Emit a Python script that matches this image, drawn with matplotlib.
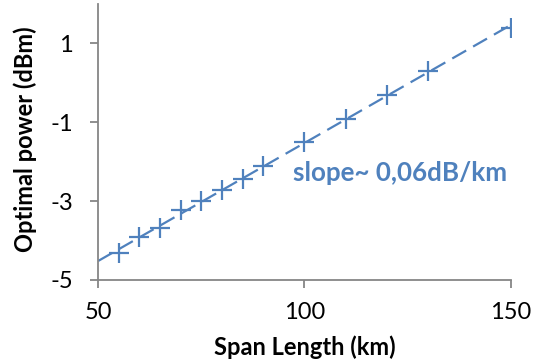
import numpy as np
import matplotlib
matplotlib.use("Agg")
import matplotlib.pyplot as plt

span_km = [55, 60, 65, 70, 75, 80, 85, 90, 100, 110, 120, 130, 150]
opt_power_dbm = [-4.31, -3.92, -3.68, -3.23, -3.0, -2.72, -2.44, -2.11,
                 -1.51, -0.91, -0.30, 0.29, 1.39]
x_ticks = [50, 100, 150]
y_ticks = [-5, -3, -1, 1]
annotation = "slope~ 0,06dB/km"

blue = "#4F81BD"
gray = "#868686"
plt.rcParams['font.family'] = ['Lato', 'DejaVu Sans']
plt.rcParams['axes.unicode_minus'] = False

fig = plt.figure(figsize=(5.39, 3.63), dpi=100)
ax = fig.add_axes([0.182, 0.229, 0.7655, 0.760])

ax.plot(span_km, opt_power_dbm, linestyle='none', marker='+', markersize=14.5,
        markeredgewidth=1.6, color=blue, zorder=3)

coef = np.polyfit(span_km, opt_power_dbm, 1)
xl = np.array([50, 150])
ax.plot(xl, np.polyval(coef, xl), color=blue, lw=1.6, dashes=(7.2, 3.6), zorder=2)

ax.text(97.2, -2.29, annotation, color=blue, fontsize=18.7, fontweight='bold',
        ha='left', va='center')

ax.set_xlim(50, 150)
ax.set_ylim(-5, 2)
ax.set_xticks(x_ticks)
ax.set_yticks(y_ticks)
for s in ['top', 'right']:
    ax.spines[s].set_visible(False)
for s in ['left', 'bottom']:
    ax.spines[s].set_color(gray)
    ax.spines[s].set_linewidth(1.3)
ax.tick_params(axis='both', colors=gray, length=6, width=1.3, labelsize=17,
               labelcolor='black')
ax.tick_params(axis='x', pad=10)
ax.tick_params(axis='y', pad=12)
ax.set_xlabel("Span Length (km)", fontsize=17, fontweight='bold', va='center')
ax.set_ylabel("Optimal power (dBm)", fontsize=17, fontweight='bold', va='center')
ax.xaxis.set_label_coords(0.5, -0.243)
ax.yaxis.set_label_coords(-0.177, 0.51)

fig.savefig("out.png", dpi=100)
